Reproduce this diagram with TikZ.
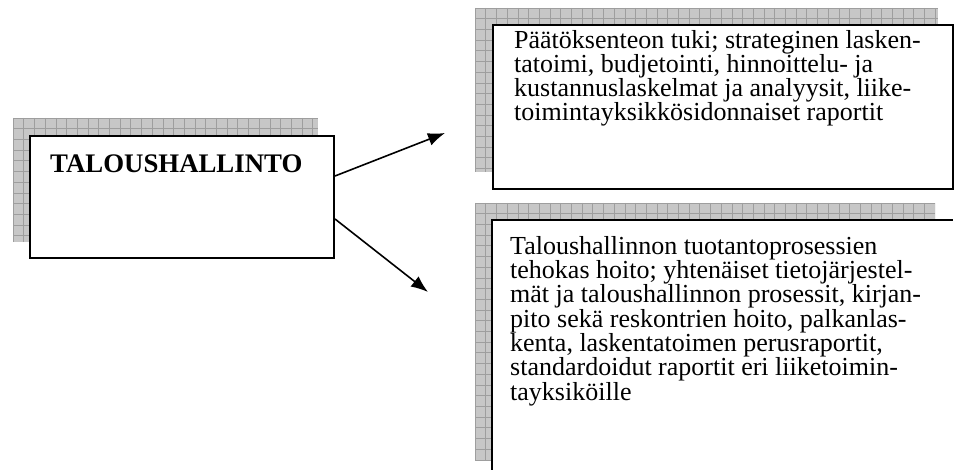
\documentclass[tikz,border=0pt]{standalone}
\usepackage{fontspec}
\setmainfont{Liberation Serif}
\usetikzlibrary{arrows.meta}
\tikzset{
  shadowfill/.style={fill=black!22, draw=none},
  gridline/.style={draw=black!38, line width=0.6pt},
  frame/.style={draw=black, line width=2pt, fill=white, inner sep=0pt},
  bodytext/.style={anchor=base west, align=left, inner sep=0pt,
    font=\fontsize{26}{24.3}\selectfont},
  titletext/.style={anchor=base west, inner sep=0pt,
    font=\fontsize{26.8}{28}\selectfont\bfseries},
  arrowline/.style={draw=black, line width=1.6pt,
    -{Latex[length=17pt,width=13pt]}}
}
% hatched drop shadow: grey block with a fine grid over it
\newcommand\gridshadow[4]{%
  \fill[shadowfill] (#1,#2) rectangle (#3,#4);
  \begin{scope}
    \clip (#1,#2) rectangle (#3,#4);
    \foreach \gx in {0,10.7,...,480} {\draw[gridline] (#1+\gx,#2) -- (#1+\gx,#4);}
    \foreach \gy in {0,10.7,...,300} {\draw[gridline] (#1,#2+\gy) -- (#3,#2+\gy);}
  \end{scope}}
\begin{document}
\begin{tikzpicture}[x=1pt,y=-1pt]
  \useasboundingbox (0,0) rectangle (967,470);

  % shadows
  \gridshadow{13}{118}{318}{242}
  \gridshadow{475}{8}{938}{172}
  \gridshadow{475}{203}{935}{460}

  % left box
  \node[frame, anchor=north west, minimum width=304pt, minimum height=122pt]
    (fin) at (29,135) {};
  \node[titletext] (finlabel) at (50,173) {TALOUSHALLINTO};

  % upper right box (text node is placed by the baseline of its last line)
  \node[frame, anchor=north west, minimum width=460pt, minimum height=164pt]
    (upper) at (492,24) {};
  \node[bodytext] (uppertext) at (514,121) {Päätöksenteon tuki; strateginen lasken-\\
    tatoimi, budjetointi, hinnoittelu- ja\\
    kustannuslaskelmat ja analyysit, liike-\\
    toimintayksikkösidonnaiset raportit};

  % lower right box: only its top and left edges fall inside the picture
  \node[anchor=north west, fill=white, inner sep=0pt, minimum width=461pt,
    minimum height=260pt] (lower) at (492,220) {};
  \draw[line width=2pt] (lower.south west) |- (lower.north east);
  \node[bodytext] (lowertext) at (510,400) {Taloushallinnon tuotantoprosessien\\
    tehokas hoito; yhtenäiset tietojärjestel-\\
    mät ja taloushallinnon prosessit, kirjan-\\
    pito sekä reskontrien hoito, palkanlas-\\
    kenta, laskentatoimen perusraportit,\\
    standardoidut raportit eri liiketoimin-\\
    tayksiköille};

  % connectors
  \coordinate (tipup) at (445,133);
  \coordinate (tipdown) at (428,292);
  \draw[arrowline] ([yshift=-41pt]fin.north east) -- (tipup);
  \draw[arrowline] ([yshift=-84pt]fin.north east) -- (tipdown);
\end{tikzpicture}
\end{document}
